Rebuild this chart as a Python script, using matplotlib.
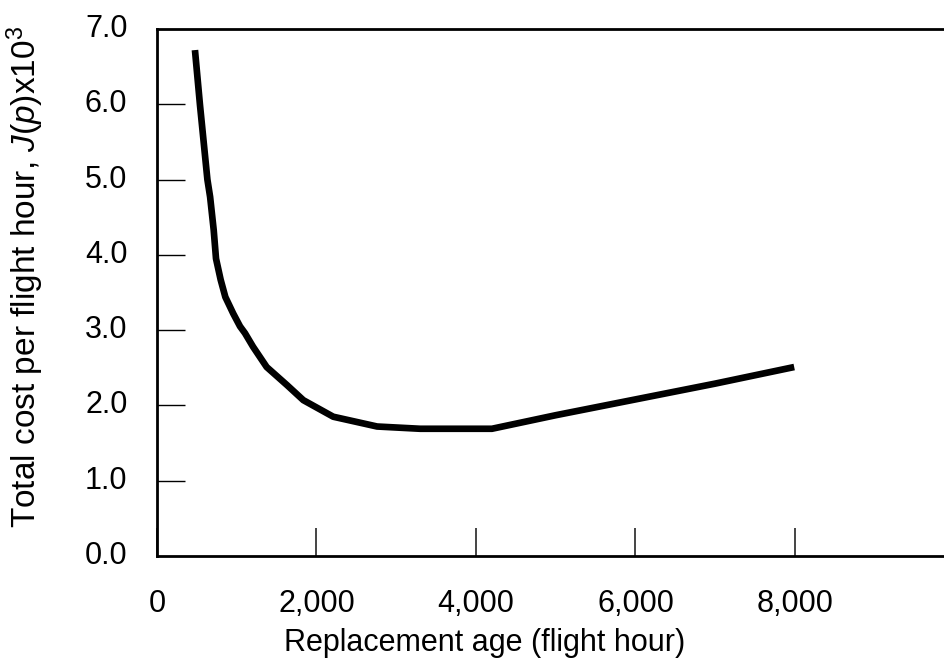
import matplotlib
matplotlib.use('Agg')
import matplotlib.pyplot as plt
import matplotlib.ticker as mticker

plt.rcParams.update({
    'font.family': 'sans-serif',
    'font.sans-serif': ['Liberation Sans', 'DejaVu Sans'],
    'font.size': 22,
    'mathtext.fontset': 'custom',
    'mathtext.rm': 'Liberation Sans',
    'mathtext.it': 'Liberation Sans:italic',
})

# replacement age (flight hour) vs total cost per flight hour (x10^3)
age = [476, 539, 632, 666, 711, 740, 798, 857, 956, 1041, 1103, 1204, 1375,
       1630, 1835, 2210, 2760, 3300, 3700, 4200, 5000, 6000, 7000, 7990]
cost = [6.72, 5.99, 5.00, 4.77, 4.33, 3.95, 3.67, 3.44, 3.22, 3.05, 2.96, 2.78,
        2.51, 2.27, 2.07, 1.85, 1.72, 1.69, 1.69, 1.69, 1.87, 2.08, 2.29, 2.51]

x_ticks = [0, 2000, 4000, 6000, 8000]
y_ticks = [1, 2, 3, 4, 5, 6]
y_labels = ['0.0', '1.0', '2.0', '3.0', '4.0', '5.0', '6.0', '7.0']

fig = plt.figure(figsize=(9.45, 6.64), dpi=100)
ax = fig.add_axes([157 / 945, 108 / 664, 797.5 / 945, 527 / 664])

ax.plot(age, cost, color='black', lw=4.8, solid_capstyle='butt',
        solid_joinstyle='round')

ax.set_xlim(0, 10000)
ax.set_ylim(0, 7)

ax.spines['right'].set_visible(False)
for s in ('top', 'left', 'bottom'):
    ax.spines[s].set_linewidth(2.0)

ax.set_xticks(x_ticks)
ax.xaxis.set_major_formatter(mticker.FuncFormatter(lambda v, p: f'{int(v):,}'))
ax.tick_params(axis='x', direction='in', length=20, width=1.4, color='#444444', pad=24)

ax.set_yticks(y_ticks)
ax.set_yticklabels([])
ax.tick_params(axis='y', direction='in', length=20, width=1.0, color='black')
for i, lab in enumerate(y_labels):
    ax.text(-0.037, i, lab, transform=ax.get_yaxis_transform(),
            ha='right', va='center')

ax.set_xlabel('Replacement age (flight hour)')
ax.xaxis.set_label_coords(0.411, -0.136)
ax.set_ylabel(r'Total cost per flight hour, $\mathit{J(p)}$x10$^3$', fontsize=24)
ax.yaxis.set_label_coords(-0.139, 0.53)

fig.savefig('out.png', dpi=100)
